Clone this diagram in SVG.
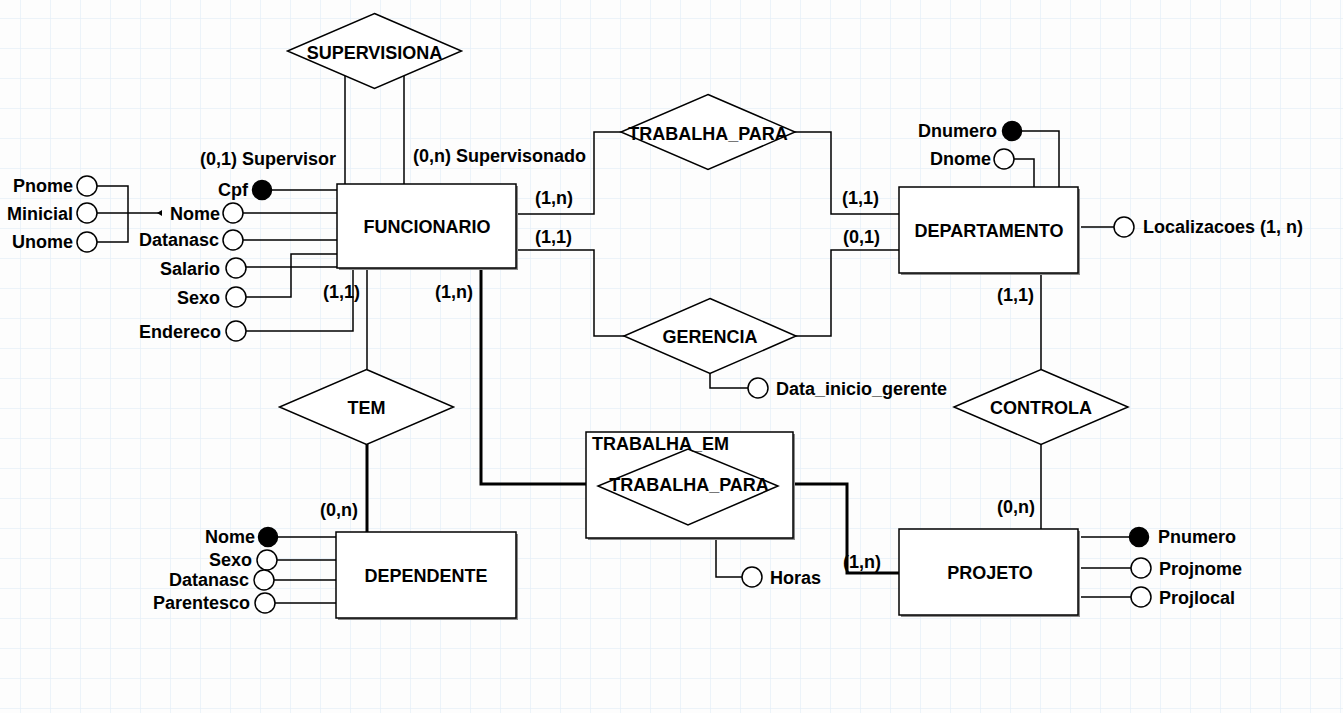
<svg xmlns="http://www.w3.org/2000/svg" width="1343" height="713" viewBox="0 0 1343 713">
<defs>
<pattern id="grid" x="20" y="18" width="30" height="30" patternUnits="userSpaceOnUse">
<path d="M0 0V30M0 0H30" stroke="#e6eff8" stroke-width="1.5" fill="none"/>
</pattern>
<style>
text{font-family:"Liberation Sans",Arial,sans-serif;font-weight:bold;font-size:18px;fill:#000}
.c{text-anchor:middle}
.r{text-anchor:end}
.ent{fill:#fff;stroke:#000;stroke-width:1.5}
.sh{fill:#8a8a8a}
.rel{fill:#fff;stroke:#000;stroke-width:1.5}
.ln{fill:none;stroke:#000;stroke-width:1.5}
.thick{fill:none;stroke:#000;stroke-width:3}
.att{fill:#fff;stroke:#000;stroke-width:1.5}
.key{fill:#000;stroke:#000;stroke-width:1.5}
</style>
</defs>
<rect width="1343" height="713" fill="#fdfdfd"/>
<rect width="1343" height="713" fill="url(#grid)"/>

<g id="connectors">
<path class="ln" d="M345 76V184M404 76V184"/>
<path class="ln" d="M272 190H337M243 213H337M243 240H337M246 267H337M246 297H291V254H337M246 331H353V268"/>
<path class="ln" d="M97 186H128V242H97M97 213H162"/>
<polygon points="157,213 162,210 162,216" fill="#000"/>
<path class="ln" d="M367 268V369"/>
<path class="thick" d="M367 444V532"/>
<path class="ln" d="M278 537H336M277 560H336M274 580H336M275 603H336"/>
<path class="ln" d="M516 214H594V132H622M795 132H831V214H899"/>
<path class="ln" d="M516 250H594V336H624M796 336H831V250H899"/>
<path class="ln" d="M710 373V388H748"/>
<path class="ln" d="M1022 131H1059V187M1014 159H1034V187M1081 227H1114"/>
<path class="ln" d="M1041 273V369M1041 444V529"/>
<path class="ln" d="M1081 537H1129M1081 568H1131M1081 597H1131"/>
<path class="thick" d="M481 268V484H598M778 484H847V573H899"/>
<path class="ln" d="M716 538V577H742"/>
</g>

<g id="supervisiona">
<polygon class="rel" points="374.5,13.5 461.5,51 374.5,88.5 287.5,51"/>
<text class="c" x="374.5" y="59">SUPERVISIONA</text>
</g>

<g id="funcionario">
<rect class="sh" x="339" y="186" width="179" height="84"/>
<rect class="ent" x="337" y="184" width="179" height="84"/>
<text class="c" x="427" y="233">FUNCIONARIO</text>
</g>

<g id="departamento">
<rect class="sh" x="901" y="189" width="179" height="86"/>
<rect class="ent" x="899" y="187" width="179" height="86"/>
<text class="c" x="989" y="237">DEPARTAMENTO</text>
</g>

<g id="dependente">
<rect class="sh" x="338" y="534" width="180" height="86"/>
<rect class="ent" x="336" y="532" width="180" height="86"/>
<text class="c" x="426" y="582">DEPENDENTE</text>
</g>

<g id="projeto">
<rect class="sh" x="901" y="531" width="179" height="86"/>
<rect class="ent" x="899" y="529" width="179" height="86"/>
<text class="c" x="990" y="579">PROJETO</text>
</g>

<g id="trabalha_para_dep">
<polygon class="rel" points="708,94.5 795,132 708,169.5 621,132"/>
<text class="c" x="708" y="140">TRABALHA_PARA</text>
</g>

<g id="gerencia">
<polygon class="rel" points="710,298.5 796,336 710,373.5 624,336"/>
<text class="c" x="710" y="343">GERENCIA</text>
</g>

<g id="tem">
<polygon class="rel" points="366.5,369.5 453.5,407 366.5,444.5 279.5,407"/>
<text class="c" x="366.5" y="414">TEM</text>
</g>

<g id="controla">
<polygon class="rel" points="1041,369.5 1128,407 1041,444.5 954,407"/>
<text class="c" x="1041" y="414">CONTROLA</text>
</g>

<g id="trabalha_em">
<rect class="sh" x="588" y="434" width="207" height="106"/>
<rect class="ent" x="586" y="432" width="207" height="106"/>
<polygon class="rel" points="688,449 778,486 688,525 598,486"/>
<text x="592" y="450">TRABALHA_EM</text>
<text class="c" x="689" y="491">TRABALHA_PARA</text>
</g>

<g id="attr-funcionario">
<circle class="att" cx="87" cy="186" r="10"/><text class="r" x="73" y="192">Pnome</text>
<circle class="att" cx="87" cy="213" r="10"/><text class="r" x="73" y="220">Minicial</text>
<circle class="att" cx="87" cy="242" r="10"/><text class="r" x="73" y="248">Unome</text>
<circle class="key" cx="262" cy="190" r="9.5"/><text class="r" x="248" y="196">Cpf</text>
<circle class="att" cx="233" cy="213" r="10"/><text class="r" x="220" y="220">Nome</text>
<circle class="att" cx="233" cy="240" r="10"/><text class="r" x="219" y="246">Datanasc</text>
<circle class="att" cx="236" cy="268" r="10"/><text class="r" x="220" y="275">Salario</text>
<circle class="att" cx="236" cy="297" r="10"/><text class="r" x="220" y="304">Sexo</text>
<circle class="att" cx="236" cy="331" r="10"/><text class="r" x="221" y="338">Endereco</text>
</g>

<g id="attr-dependente">
<circle class="key" cx="268" cy="537" r="9.5"/><text class="r" x="255" y="543">Nome</text>
<circle class="att" cx="267" cy="560" r="10"/><text class="r" x="252" y="566">Sexo</text>
<circle class="att" cx="264" cy="580" r="10"/><text class="r" x="249" y="586">Datanasc</text>
<circle class="att" cx="265" cy="603" r="10"/><text class="r" x="250" y="609">Parentesco</text>
</g>

<g id="attr-departamento">
<circle class="key" cx="1012" cy="131" r="9.5"/><text class="r" x="997" y="137">Dnumero</text>
<circle class="att" cx="1004" cy="159" r="10"/><text class="r" x="991" y="165">Dnome</text>
<circle class="att" cx="1124" cy="227" r="10"/><text x="1143" y="233">Localizacoes (1, n)</text>
</g>

<g id="attr-projeto">
<circle class="key" cx="1139" cy="537" r="9.5"/><text x="1158" y="543">Pnumero</text>
<circle class="att" cx="1141" cy="568" r="10"/><text x="1159" y="575">Projnome</text>
<circle class="att" cx="1141" cy="597" r="10"/><text x="1159" y="604">Projlocal</text>
</g>

<g id="attr-relationships">
<circle class="att" cx="758" cy="388" r="10"/><text x="776" y="395">Data_inicio_gerente</text>
<circle class="att" cx="752" cy="577" r="10"/><text x="770" y="584">Horas</text>
</g>

<g id="cardinalities">
<text class="r" x="336" y="165">(0,1) Supervisor</text>
<text x="413" y="162">(0,n) Supervisonado</text>
<text x="535" y="204">(1,n)</text>
<text x="535" y="243">(1,1)</text>
<text x="842" y="204">(1,1)</text>
<text x="843" y="243">(0,1)</text>
<text x="323" y="298">(1,1)</text>
<text x="435" y="298">(1,n)</text>
<text x="320" y="516">(0,n)</text>
<text x="997" y="301">(1,1)</text>
<text x="997" y="513">(0,n)</text>
<text x="843" y="568">(1,n)</text>
</g>
</svg>
